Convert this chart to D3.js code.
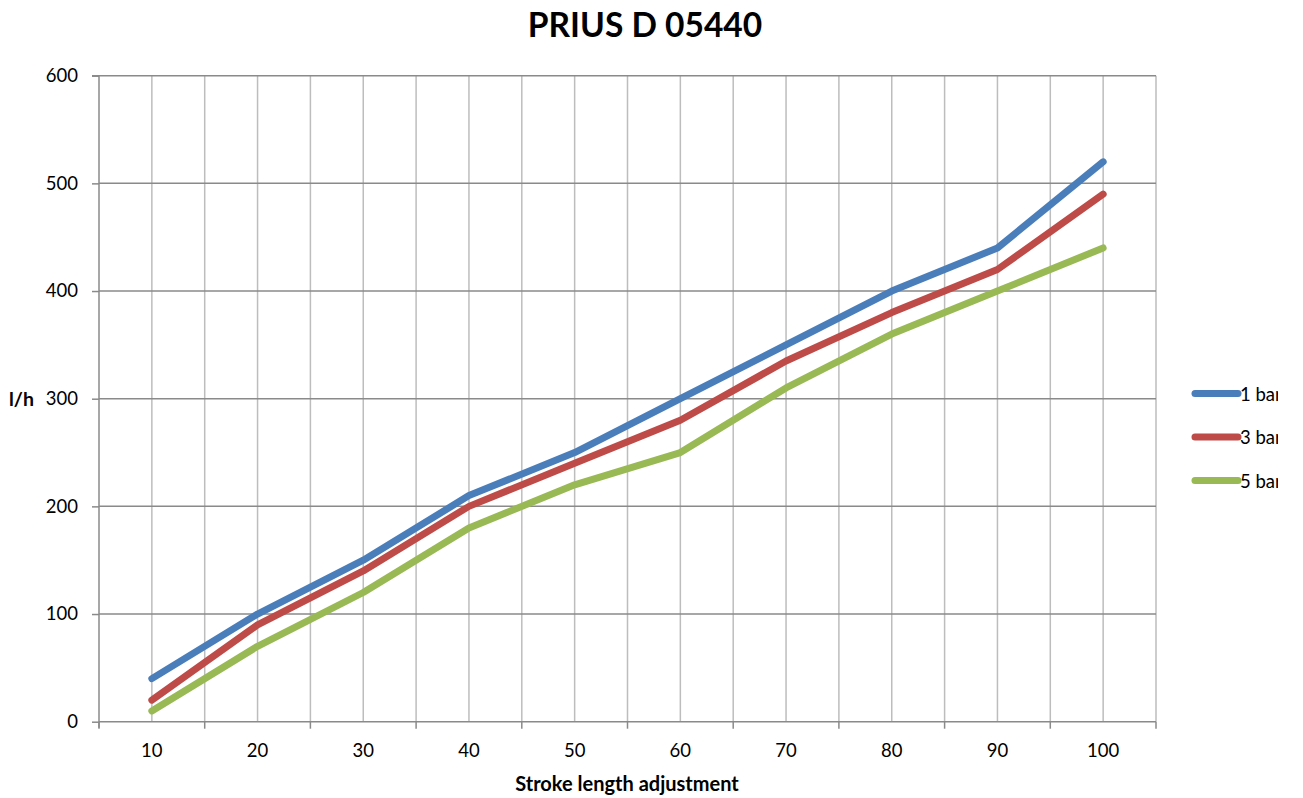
<!DOCTYPE html>
<html><head><meta charset="utf-8">
<script src="https://cdn.jsdelivr.net/npm/d3@7"></script>
<style>body{margin:0;background:#fff;} text{font-family:Lato,"Open Sans",sans-serif;}</style>
</head><body>
<svg id="c" width="1303" height="798"></svg>
<script>
const categories = [10,20,30,40,50,60,70,80,90,100];
const seriesNames = ["1 bar","3 bar","5 bar"];
const bar1 = [40,100,150,210,250,300,350,400,440,520];
const bar3 = [20,90,140,200,240,280,335,380,420,490];
const bar5 = [10,70,120,180,220,250,310,360,400,440];
const yTicks = [0,100,200,300,400,500,600];
const colors = ["#4A7EBB","#BE4B48","#98B954"];
const title = "PRIUS D 05440";
const xTitle = "Stroke length adjustment";
const yTitle = "l/h";

const svg = d3.select("#c");
const L=99, R=1156, T=75.7, B=721.7;
const x = d3.scaleBand().domain(categories).range([L,R]).padding(0);
const y = d3.scaleLinear().domain([0,600]).range([B,T]);
const bw = x.bandwidth();
const cx = c => x(c)+bw/2;

const vlines = [];
categories.forEach(c=>{ vlines.push(x(c)); vlines.push(cx(c)); });
vlines.push(R);
svg.append("g").selectAll("line").data(vlines.filter(v=>v>L+0.5)).join("line")
  .attr("x1",d=>d).attr("x2",d=>d).attr("y1",T).attr("y2",B)
  .attr("stroke","#bdbdbd").attr("stroke-width",1.5);
svg.append("g").selectAll("line").data(yTicks.filter(t=>t>0)).join("line")
  .attr("x1",L).attr("x2",R).attr("y1",d=>y(d)).attr("y2",d=>y(d))
  .attr("stroke","#8a8a8a").attr("stroke-width",1.5);

const ya = svg.append("g").attr("transform",`translate(${L},0)`)
  .call(d3.axisLeft(y).tickValues(yTicks).tickSize(7).tickPadding(14));
ya.select(".domain").attr("stroke","#8a8a8a").attr("stroke-width",1.5).attr("d",`M-7,${T}H0V${B+6}`);
ya.selectAll(".tick line").attr("stroke","#8a8a8a").attr("stroke-width",1.5);
ya.selectAll(".tick text").attr("font-size",18.5).attr("fill","#000").attr("font-family","Lato");

const xa = svg.append("g").attr("transform",`translate(0,${B})`)
  .call(d3.axisBottom(x).tickSize(0).tickPadding(22));
xa.select(".domain").attr("stroke","#8a8a8a").attr("stroke-width",1.5).attr("d",`M${L},0H${R}`);
xa.selectAll(".tick text").attr("font-size",18.5).attr("fill","#000").attr("font-family","Lato");
svg.append("g").selectAll("line").data(categories.map(c=>x(c)).concat([R])).join("line")
  .attr("x1",d=>d).attr("x2",d=>d).attr("y1",B).attr("y2",B+7)
  .attr("stroke","#8a8a8a").attr("stroke-width",1.5);

const series = [bar1,bar3,bar5];
const line = d3.line().x((d,i)=>cx(categories[i])).y(d=>y(d));
svg.append("g").selectAll("path").data(series).join("path")
  .attr("d",line).attr("fill","none").attr("stroke",(d,i)=>colors[i])
  .attr("stroke-width",7).attr("stroke-linecap","round").attr("stroke-linejoin","round");

svg.append("text").attr("x",645).attr("y",37).attr("text-anchor","middle")
  .attr("font-size",33.5).attr("font-weight","bold").text(title);
svg.append("text").attr("x",627).attr("y",791).attr("text-anchor","middle")
  .attr("font-size",20).attr("font-weight","bold").text(xTitle);
svg.append("text").attr("x",9).attr("y",406)
  .attr("font-size",19.5).attr("font-weight","bold").text(yTitle);

svg.append("clipPath").attr("id","lc").append("rect").attr("x",1160).attr("y",360).attr("width",118).attr("height",140);
const lg = svg.append("g").attr("clip-path","url(#lc)");
const ly = [393.5,437,480.5];
seriesNames.forEach((n,i)=>{
  lg.append("line").attr("x1",1195).attr("x2",1238).attr("y1",ly[i]).attr("y2",ly[i])
    .attr("stroke",colors[i]).attr("stroke-width",7).attr("stroke-linecap","round");
  lg.append("text").attr("x",1240).attr("y",ly[i]+7).attr("font-size",18.5).text(n);
});
</script>
</body></html>
